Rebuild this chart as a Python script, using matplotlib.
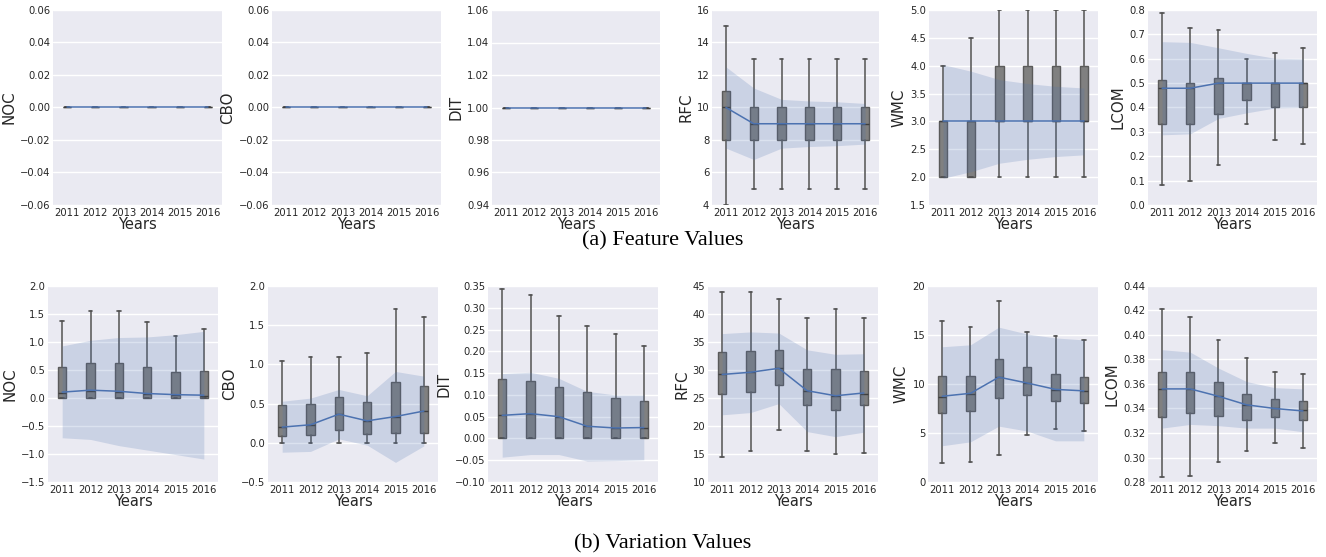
import matplotlib
matplotlib.use("Agg")
import matplotlib.pyplot as plt
from matplotlib.ticker import MultipleLocator, ScalarFormatter
import seaborn as sns

sns.set_style("darkgrid")
plt.rcParams['font.family'] = ['DejaVu Sans']

years = ["2011", "2012", "2013", "2014", "2015", "2016"]

# ---------- (a) Feature values: box stats [whislo, q1, med, q3, whishi] ----------
noc_feat_box = [[0, 0, 0, 0, 0]] * 6
noc_feat_line = [0, 0, 0, 0, 0, 0]
noc_feat_lo = [0, 0, 0, 0, 0, 0]
noc_feat_hi = [0, 0, 0, 0, 0, 0]

cbo_feat_box = [[0, 0, 0, 0, 0]] * 6
cbo_feat_line = [0, 0, 0, 0, 0, 0]
cbo_feat_lo = [0, 0, 0, 0, 0, 0]
cbo_feat_hi = [0, 0, 0, 0, 0, 0]

dit_feat_box = [[1, 1, 1, 1, 1]] * 6
dit_feat_line = [1, 1, 1, 1, 1, 1]
dit_feat_lo = [1, 1, 1, 1, 1, 1]
dit_feat_hi = [1, 1, 1, 1, 1, 1]

rfc_feat_box = [[4, 8, 10, 11, 15], [5, 8, 9, 10, 13], [5, 8, 9, 10, 13],
                [5, 8, 9, 10, 13], [5, 8, 9, 10, 13], [5, 8, 9, 10, 13]]
rfc_feat_line = [10, 9, 9, 9, 9, 9]
rfc_feat_lo = [7.5, 6.8, 7.5, 7.6, 7.65, 7.75]
rfc_feat_hi = [12.5, 11.2, 10.5, 10.4, 10.35, 10.25]

wmc_feat_box = [[2, 2, 3, 3, 4], [2, 2, 3, 3, 4.5], [2, 3, 3, 4, 5],
                [2, 3, 3, 4, 5], [2, 3, 3, 4, 5], [2, 3, 3, 4, 5]]
wmc_feat_line = [3, 3, 3, 3, 3, 3]
wmc_feat_lo = [1.98, 2.1, 2.25, 2.32, 2.37, 2.4]
wmc_feat_hi = [4.02, 3.9, 3.75, 3.68, 3.63, 3.6]

lcom_feat_box = [[0.081, 0.331, 0.479, 0.513, 0.787], [0.097, 0.331, 0.479, 0.50, 0.726],
                 [0.163, 0.372, 0.50, 0.52, 0.718], [0.331, 0.43, 0.50, 0.50, 0.60],
                 [0.267, 0.40, 0.50, 0.50, 0.625], [0.25, 0.40, 0.50, 0.50, 0.643]]
lcom_feat_line = [0.479, 0.479, 0.50, 0.50, 0.50, 0.50]
lcom_feat_lo = [0.288, 0.292, 0.355, 0.378, 0.398, 0.40]
lcom_feat_hi = [0.670, 0.667, 0.645, 0.622, 0.602, 0.60]

# ---------- (b) Variation values ----------
noc_var_box = [[0, 0, 0.098, 0.551, 1.374], [0, 0, 0.128, 0.617, 1.553],
               [0, 0, 0.11, 0.617, 1.553], [0, 0, 0.075, 0.545, 1.356],
               [0, 0, 0.05, 0.468, 1.10], [0, 0, 0.044, 0.49, 1.225]]
noc_var_line = [0.105, 0.14, 0.12, 0.08, 0.06, 0.05]
noc_var_lo = [-0.71, -0.74, -0.85, -0.93, -1.01, -1.09]
noc_var_hi = [0.93, 1.03, 1.08, 1.09, 1.13, 1.19]

cbo_var_box = [[0, 0.088, 0.20, 0.488, 1.04], [0, 0.097, 0.224, 0.50, 1.10],
               [0, 0.164, 0.365, 0.59, 1.10], [0, 0.114, 0.28, 0.526, 1.14],
               [0, 0.127, 0.33, 0.77, 1.71], [0, 0.13, 0.403, 0.72, 1.60]]
cbo_var_line = [0.20, 0.23, 0.365, 0.28, 0.335, 0.405]
cbo_var_lo = [-0.12, -0.11, 0.05, -0.03, -0.25, -0.04]
cbo_var_hi = [0.53, 0.57, 0.68, 0.60, 0.91, 0.85]

dit_var_box = [[0, 0, 0.053, 0.137, 0.342], [0, 0, 0.057, 0.133, 0.330],
               [0, 0, 0.050, 0.117, 0.282], [0, 0, 0.028, 0.106, 0.259],
               [0, 0, 0.024, 0.094, 0.239], [0, 0, 0.025, 0.087, 0.212]]
dit_var_line = [0.053, 0.057, 0.050, 0.028, 0.024, 0.025]
dit_var_lo = [-0.043, -0.037, -0.037, -0.052, -0.051, -0.049]
dit_var_hi = [0.149, 0.152, 0.138, 0.108, 0.100, 0.100]

rfc_var_box = [[14.4, 25.7, 29.2, 33.3, 44.0], [15.6, 26.0, 29.6, 33.4, 44.0],
               [19.3, 27.4, 30.3, 33.6, 42.7], [15.6, 23.7, 26.3, 30.1, 39.3],
               [15.0, 22.8, 25.4, 30.1, 40.9], [15.2, 23.7, 25.8, 29.9, 39.2]]
rfc_var_line = [29.2, 29.6, 30.3, 26.3, 25.4, 25.9]
rfc_var_lo = [22.0, 22.4, 24.0, 19.0, 18.1, 18.9]
rfc_var_hi = [36.5, 36.8, 36.6, 33.6, 32.8, 32.9]

wmc_var_box = [[1.9, 7.0, 8.7, 10.8, 16.4], [2.05, 7.2, 9.0, 10.8, 15.8],
               [2.8, 8.6, 10.7, 12.6, 18.5], [4.8, 8.9, 10.1, 11.7, 15.3],
               [5.4, 8.3, 9.4, 11.0, 14.9], [5.2, 8.1, 9.3, 10.7, 14.5]]
wmc_var_line = [8.75, 9.05, 10.7, 10.1, 9.45, 9.3]
wmc_var_lo = [3.7, 4.1, 5.7, 5.2, 4.2, 4.2]
wmc_var_hi = [13.8, 14.0, 15.8, 15.1, 14.7, 14.5]

lcom_var_box = [[0.284, 0.333, 0.356, 0.370, 0.421], [0.285, 0.336, 0.356, 0.370, 0.415],
                [0.296, 0.334, 0.350, 0.362, 0.396], [0.305, 0.331, 0.343, 0.352, 0.381],
                [0.312, 0.333, 0.340, 0.348, 0.370], [0.308, 0.331, 0.339, 0.346, 0.368]]
lcom_var_line = [0.356, 0.356, 0.350, 0.343, 0.340, 0.338]
lcom_var_lo = [0.324, 0.327, 0.326, 0.324, 0.324, 0.321]
lcom_var_hi = [0.388, 0.386, 0.373, 0.362, 0.357, 0.356]

top_panels = [
    ("NOC", noc_feat_box, noc_feat_line, noc_feat_lo, noc_feat_hi, (-0.06, 0.06), 0.02),
    ("CBO", cbo_feat_box, cbo_feat_line, cbo_feat_lo, cbo_feat_hi, (-0.06, 0.06), 0.02),
    ("DIT", dit_feat_box, dit_feat_line, dit_feat_lo, dit_feat_hi, (0.94, 1.06), 0.02),
    ("RFC", rfc_feat_box, rfc_feat_line, rfc_feat_lo, rfc_feat_hi, (4, 16), 2),
    ("WMC", wmc_feat_box, wmc_feat_line, wmc_feat_lo, wmc_feat_hi, (1.5, 5.0), 0.5),
    ("LCOM", lcom_feat_box, lcom_feat_line, lcom_feat_lo, lcom_feat_hi, (0.0, 0.8), 0.1),
]
bottom_panels = [
    ("NOC", noc_var_box, noc_var_line, noc_var_lo, noc_var_hi, (-1.5, 2.0), 0.5),
    ("CBO", cbo_var_box, cbo_var_line, cbo_var_lo, cbo_var_hi, (-0.5, 2.0), 0.5),
    ("DIT", dit_var_box, dit_var_line, dit_var_lo, dit_var_hi, (-0.10, 0.35), 0.05),
    ("RFC", rfc_var_box, rfc_var_line, rfc_var_lo, rfc_var_hi, (10, 45), 5),
    ("WMC", wmc_var_box, wmc_var_line, wmc_var_lo, wmc_var_hi, (0, 20), 5),
    ("LCOM", lcom_var_box, lcom_var_line, lcom_var_lo, lcom_var_hi, (0.28, 0.44), 0.02),
]

W, H = 1326, 557
fig = plt.figure(figsize=(W / 100, H / 100), dpi=100)
fig.patch.set_facecolor("white")

top_x = [(53, 222), (272, 441), (492, 660), (712, 879), (929, 1098), (1148, 1317)]
bot_x = [(48, 218), (268, 438), (488, 658), (708, 878), (928, 1098), (1148, 1317)]
top_y = (10, 205)
bot_y = (286, 482)

BLUE = "#4C72B0"


def draw(ax, name, box, line, lo, hi, ylim, step):
    pos = list(range(len(years)))
    stats = []
    for b in box:
        stats.append(dict(whislo=b[0], q1=b[1], med=b[2], q3=b[3], whishi=b[4], fliers=[]))
    ax.bxp(stats, positions=pos, widths=0.3, patch_artist=True, showfliers=False,
           capwidths=0.13,
           boxprops=dict(facecolor="#808080", edgecolor="#5a5a5a", linewidth=1.0),
           whiskerprops=dict(color="#5f5f5f", linewidth=1.2),
           capprops=dict(color="#4f4f4f", linewidth=1.2),
           medianprops=dict(color="#3f3f3f", linewidth=1.0), zorder=2)
    ax.fill_between(pos, lo, hi, color=BLUE, alpha=0.2, linewidth=0, zorder=3)
    ax.plot(pos, line, color=BLUE, linewidth=1.1, zorder=4)
    ax.set_xlim(-0.5, len(years) - 0.5)
    ax.set_ylim(*ylim)
    ax.yaxis.set_major_locator(MultipleLocator(step))
    fmt = ScalarFormatter(useOffset=False)
    ax.yaxis.set_major_formatter(fmt)
    ax.set_xticks(pos)
    ax.set_xticklabels(years)
    ax.grid(axis="x", visible=False)
    ax.grid(axis="y", color="white", linewidth=1.0)
    ax.set_axisbelow(True)
    ax.tick_params(axis="both", labelsize=7.2, length=0, colors="#262626")
    ax.tick_params(axis="y", pad=2)
    ax.tick_params(axis="x", pad=2.5)
    ax.set_ylabel(name, fontsize=10.8, color="#262626", labelpad=2.5)
    ax.set_xlabel("Years", fontsize=10.5, color="#262626", labelpad=-1)
    for s in ax.spines.values():
        s.set_visible(False)


for (x0, x1), p in zip(top_x, top_panels):
    ax = fig.add_axes([x0 / W, 1 - top_y[1] / H, (x1 - x0) / W, (top_y[1] - top_y[0]) / H])
    ax.set_facecolor("#EAEAF2")
    draw(ax, *p)

for (x0, x1), p in zip(bot_x, bottom_panels):
    ax = fig.add_axes([x0 / W, 1 - bot_y[1] / H, (x1 - x0) / W, (bot_y[1] - bot_y[0]) / H])
    ax.set_facecolor("#EAEAF2")
    draw(ax, *p)

fig.text(663 / W, 1 - 241 / H, "(a) Feature Values", family="Liberation Serif",
         fontsize=16, ha="center", va="center", color="black")
fig.text(663 / W, 1 - 544 / H, "(b) Variation Values", family="Liberation Serif",
         fontsize=16, ha="center", va="center", color="black")

fig.savefig("out.png", dpi=100, facecolor="white")
